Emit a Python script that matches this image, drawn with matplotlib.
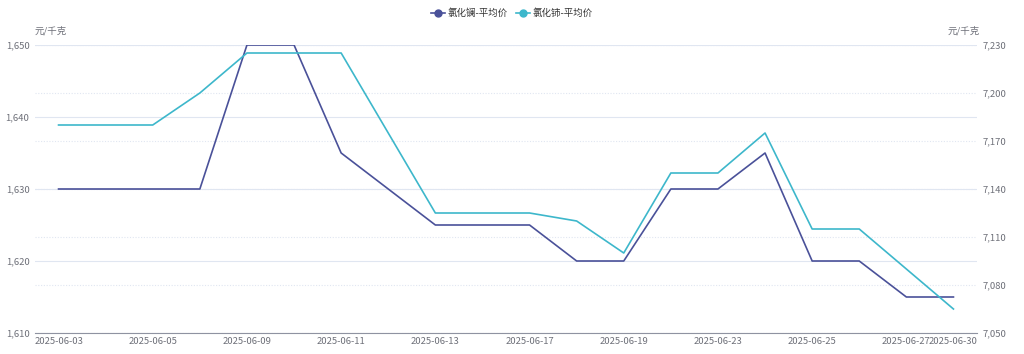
import matplotlib
matplotlib.use('Agg')
import matplotlib.pyplot as plt
from matplotlib.ticker import FuncFormatter

plt.rcParams['font.family'] = ['Noto Sans CJK SC', 'DejaVu Sans']

dates = ['2025-06-03', '2025-06-04', '2025-06-05', '2025-06-06', '2025-06-09',
         '2025-06-10', '2025-06-11', '2025-06-12', '2025-06-13', '2025-06-16',
         '2025-06-17', '2025-06-18', '2025-06-19', '2025-06-20', '2025-06-23',
         '2025-06-24', '2025-06-25', '2025-06-26', '2025-06-27', '2025-06-30']
la_price = [1630, 1630, 1630, 1630, 1650, 1650, 1635, 1630, 1625, 1625,
            1625, 1620, 1620, 1630, 1630, 1635, 1620, 1620, 1615, 1615]
ce_price = [7180, 7180, 7180, 7200, 7225, 7225, 7225, 7175, 7125, 7125,
            7125, 7120, 7100, 7150, 7150, 7175, 7115, 7115, 7090, 7065]
shown_labels = ['2025-06-03', '2025-06-05', '2025-06-09', '2025-06-11', '2025-06-13',
                '2025-06-17', '2025-06-19', '2025-06-23', '2025-06-25', '2025-06-27',
                '2025-06-30']
left_ticks = [1610, 1620, 1630, 1640, 1650]
right_ticks = [7050, 7080, 7110, 7140, 7170, 7200, 7230]

la_color = '#4a5199'
ce_color = '#3db7cb'
text_color = '#6e7079'
grid_color = '#e0e6f1'
fs = 6.8

fig = plt.figure(figsize=(10.24, 3.54), dpi=100)
ax = fig.add_axes([35 / 1024, 21 / 354, 942 / 1024, 288 / 354])
ax2 = ax.twinx()

x = list(range(len(dates)))

ax.set_xlim(-0.5, len(dates) - 0.5)
ax.set_ylim(left_ticks[0], left_ticks[-1])
ax.set_yticks(left_ticks)
ax2.set_ylim(right_ticks[0], right_ticks[-1])
ax2.set_yticks(right_ticks)

# grid: solid for the left axis, dotted for the right axis (drawn behind both series)
ax.grid(axis='y', color=grid_color, lw=0.8, zorder=0)
ax.set_axisbelow(True)
for y in right_ticks:
    frac = (y - right_ticks[0]) / (right_ticks[-1] - right_ticks[0])
    ax.axhline(left_ticks[0] + frac * (left_ticks[-1] - left_ticks[0]),
               color=grid_color, lw=0.8, ls=(0, (1, 1.5)), zorder=0)

l1, = ax.plot(x, la_price, color=la_color, lw=1.2, label='氯化镧-平均价', zorder=3)
l2, = ax2.plot(x, ce_price, color=ce_color, lw=1.2, label='氯化铈-平均价', zorder=3)

fmt = FuncFormatter(lambda v, p: f'{int(v):,}')
ax.yaxis.set_major_formatter(fmt)
ax2.yaxis.set_major_formatter(fmt)

tick_pos = [dates.index(d) for d in shown_labels]
ax.set_xticks(tick_pos)
ax.set_xticklabels(shown_labels)

for a in (ax, ax2):
    for s in a.spines.values():
        s.set_visible(False)
    a.tick_params(length=0, labelsize=fs, labelcolor=text_color)
ax.spines['bottom'].set_visible(True)
ax.spines['bottom'].set_color('#8f93a1')
ax.tick_params(axis='x', pad=3)
ax.tick_params(axis='y', pad=4)
ax2.tick_params(axis='y', pad=4)

fig.text(35 / 1024, 1 - 31 / 354, '元/千克', fontsize=fs, color=text_color,
         ha='left', va='center')
fig.text(980 / 1024, 1 - 31 / 354, '元/千克', fontsize=fs, color=text_color,
         ha='right', va='center')

fig.legend(handles=[l1, l2], loc='center', bbox_to_anchor=(0.5, 1 - 13 / 354),
           ncol=2, frameon=False, fontsize=fs, handlelength=1.5,
           columnspacing=0.8, handletextpad=0.3, labelcolor='#333333')
for h, c in zip(fig.legends[0].legend_handles, (la_color, ce_color)):
    h.set_marker('o')
    h.set_markersize(5)
    h.set_markerfacecolor(c)
    h.set_markeredgecolor(c)

fig.savefig('out.png', dpi=100)
